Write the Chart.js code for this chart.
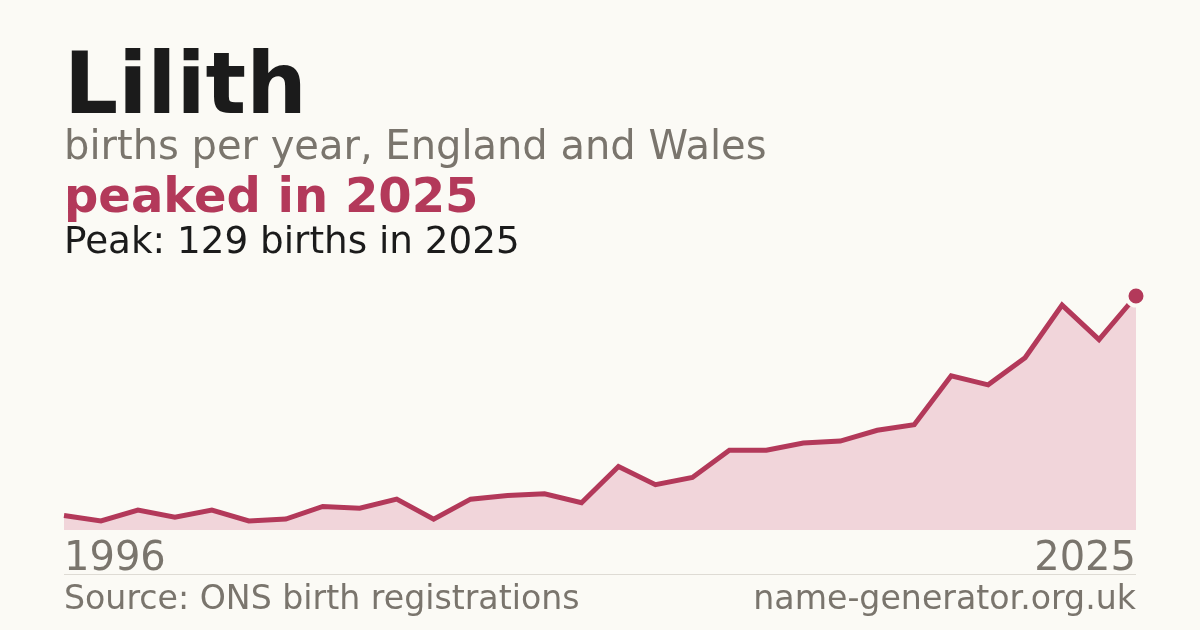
<!DOCTYPE html>
<html lang="en">
<head>
  <meta charset="UTF-8">
  <title>Lilith</title>
  <script src="https://cdn.jsdelivr.net/npm/chart.js"></script>
  <style>
    html, body { margin: 0; padding: 0; }
    body { width: 1200px; height: 630px; background: #fbfaf5; font-family: "DejaVu Sans", sans-serif; position: relative; overflow: hidden; }
    .txt { position: absolute; left: 64px; line-height: 1; white-space: nowrap; }
    .right { left: auto; right: 64px; text-align: right; }
    #title { top: 41px; font-size: 85px; font-weight: bold; color: #1b1b1b; }
    #subtitle { top: 125px; font-size: 40px; color: #7a756d; }
    #headline { top: 171px; font-size: 48px; font-weight: bold; color: #b3395a; }
    #peak { top: 222px; font-size: 37.3px; color: #1b1b1b; }
    .axis { top: 536px; font-size: 40px; color: #7a756d; }
    .foot { top: 581px; font-size: 33.2px; color: #7a756d; }
    #rule { position: absolute; left: 64px; width: 1072px; top: 574px; height: 1px; background: #dedbd4; }
    #chart { position: absolute; left: 0; top: 0; }
  </style>
</head>
<body>
  <canvas id="chart" width="1200" height="630"></canvas>
  <div id="title" class="txt">Lilith</div>
  <div id="subtitle" class="txt">births per year, England and Wales</div>
  <div id="headline" class="txt">peaked in 2025</div>
  <div id="peak" class="txt">Peak: 129 births in 2025</div>
  <div id="firstYear" class="txt axis"></div>
  <div id="lastYear" class="txt axis right"></div>
  <div id="rule"></div>
  <div class="txt foot">Source: ONS birth registrations</div>
  <div class="txt foot right">name-generator.org.uk</div>
  <script>
    // births per year
    const years = [1996, 1997, 1998, 1999, 2000, 2001, 2002, 2003, 2004, 2005,
                   2006, 2007, 2008, 2009, 2010, 2011, 2012, 2013, 2014, 2015,
                   2016, 2017, 2018, 2019, 2020, 2021, 2022, 2023, 2024, 2025];
    const births = [8, 5, 11, 7, 11, 5, 6, 13, 12, 17,
                    6, 17, 19, 20, 15, 35, 25, 29, 44, 44,
                    48, 49, 55, 58, 85, 80, 95, 124, 105, 129];

    const bg = '#fbfaf5';
    const red = '#b3395a';

    document.getElementById('firstYear').textContent = years[0];
    document.getElementById('lastYear').textContent = years[years.length - 1];

    const last = births.length - 1;
    const peakValue = Math.max(...births);

    new Chart(document.getElementById('chart'), {
      type: 'line',
      data: {
        labels: years,
        datasets: [{
          data: births,
          borderColor: red,
          borderWidth: 5,
          borderJoinStyle: 'miter',
          backgroundColor: '#f1d5da',
          fill: 'origin',
          tension: 0,
          clip: false,
          pointRadius: births.map((v, i) => i === last ? 9.5 : 0),
          pointBackgroundColor: red,
          pointBorderColor: bg,
          pointBorderWidth: 4
        }]
      },
      options: {
        responsive: false,
        animation: false,
        events: [],
        layout: { padding: { left: 64, right: 64, top: 296, bottom: 100 } },
        plugins: { legend: { display: false }, tooltip: { enabled: false } },
        scales: {
          x: { display: false, offset: false },
          y: { display: false, min: 0, max: peakValue }
        }
      }
    });
  </script>
</body>
</html>
